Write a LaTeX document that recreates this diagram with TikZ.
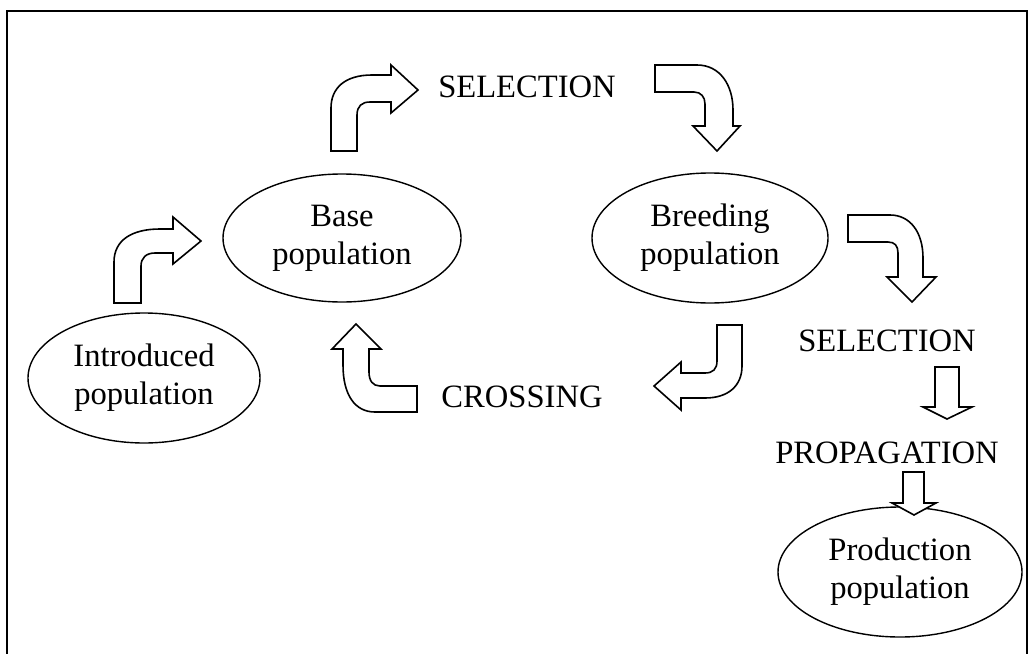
\documentclass[tikz,border=0pt]{standalone}
\usepackage{fontspec}
\setmainfont{Liberation Serif}
\usetikzlibrary{shapes.geometric}

\tikzset{
  pop/.style={draw,ellipse,line width=0.7pt,inner sep=0pt,align=center,
    font=\fontsize{16.3}{19}\selectfont},
  word/.style={font=\fontsize{16.3}{19}\selectfont},
  bigarrow/.style={draw,line width=0.8pt,fill=white,line join=miter}
}

\begin{document}
\begin{tikzpicture}[x=0.5pt,y=-0.5pt]
\useasboundingbox (0,0) rectangle (1032,653);

%marco exterior
\draw [line width=1pt] (7,11) rectangle (1027,680);

%las poblaciones
\node[pop,minimum width=119pt,minimum height=64pt] (base) at (342,238) {Base\\population};
\node[pop,minimum width=118pt,minimum height=65pt] (breed) at (710,238) {Breeding\\population};
\node[pop,minimum width=116pt,minimum height=65pt] (intro) at (144,378) {Introduced\\population};
\node[pop,minimum width=122pt,minimum height=65pt] (prod) at (900,572) {Production\\population};

%los textos
\node[word] (sel1) at (527,87) {SELECTION};
\node[word] (cross) at (522,397) {CROSSING};
\node[word] (sel2) at (887,341) {SELECTION};
\node[word] (prop) at (887,453) {PROPAGATION};

%flecha de introduced a base
\draw[bigarrow] (114,303) -- (114,262) .. controls (114,240) and (132,229) .. (160,229)
  -- (173,229) -- (173,217) -- (201,241) -- (173,264) -- (173,253) -- (155,253)
  .. controls (146,253) and (141,258) .. (141,266) -- (141,303) -- cycle;

%flecha de base a selection
\draw[bigarrow] (331,151) -- (331,108) .. controls (331,88) and (345,75) .. (372,75)
  -- (391,75) -- (391,65) -- (418,90) -- (391,113) -- (391,102) -- (370,102)
  .. controls (362,102) and (357,106) .. (357,115) -- (357,151) -- cycle;

%flecha de selection a breeding
\draw[bigarrow] (655,65) -- (697,65) .. controls (720,65) and (733,85) .. (733,110)
  -- (733,126) -- (740,126) -- (717,151) -- (693,126) -- (705,126) -- (705,104)
  .. controls (705,97) and (701,92) .. (694,92) -- (655,92) -- cycle;

%flecha de breeding a crossing
\draw[bigarrow] (717,325) -- (742,325) -- (742,366) .. controls (742,386) and (728,398) .. (705,398)
  -- (681,398) -- (681,410) -- (654,386) -- (681,362) -- (681,373) -- (705,373)
  .. controls (713,373) and (717,369) .. (717,361) -- cycle;

%flecha de crossing a base
\draw[bigarrow] (417,386) -- (380,386) .. controls (373,386) and (369,381) .. (369,372)
  -- (369,349) -- (381,349) -- (356,324) -- (332,349) -- (343,349) -- (343,365)
  .. controls (343,395) and (355,412) .. (375,412) -- (417,412) -- cycle;

%flecha de breeding a selection
\draw[bigarrow] (848,215) -- (890,215) .. controls (910,215) and (923,232) .. (923,258)
  -- (923,277) -- (936,277) -- (912,302) -- (887,277) -- (898,277) -- (898,253)
  .. controls (898,246) and (895,242) .. (888,242) -- (848,242) -- cycle;

%flechas rectas hacia abajo
\draw[bigarrow] (935,367) -- (959,367) -- (959,407) -- (972,407) -- (947,419)
  -- (923,407) -- (935,407) -- cycle;
\draw[bigarrow] (903,472) -- (924,472) -- (924,503) -- (936,503) -- (914,515)
  -- (892,503) -- (903,503) -- cycle;
\end{tikzpicture}
\end{document}
